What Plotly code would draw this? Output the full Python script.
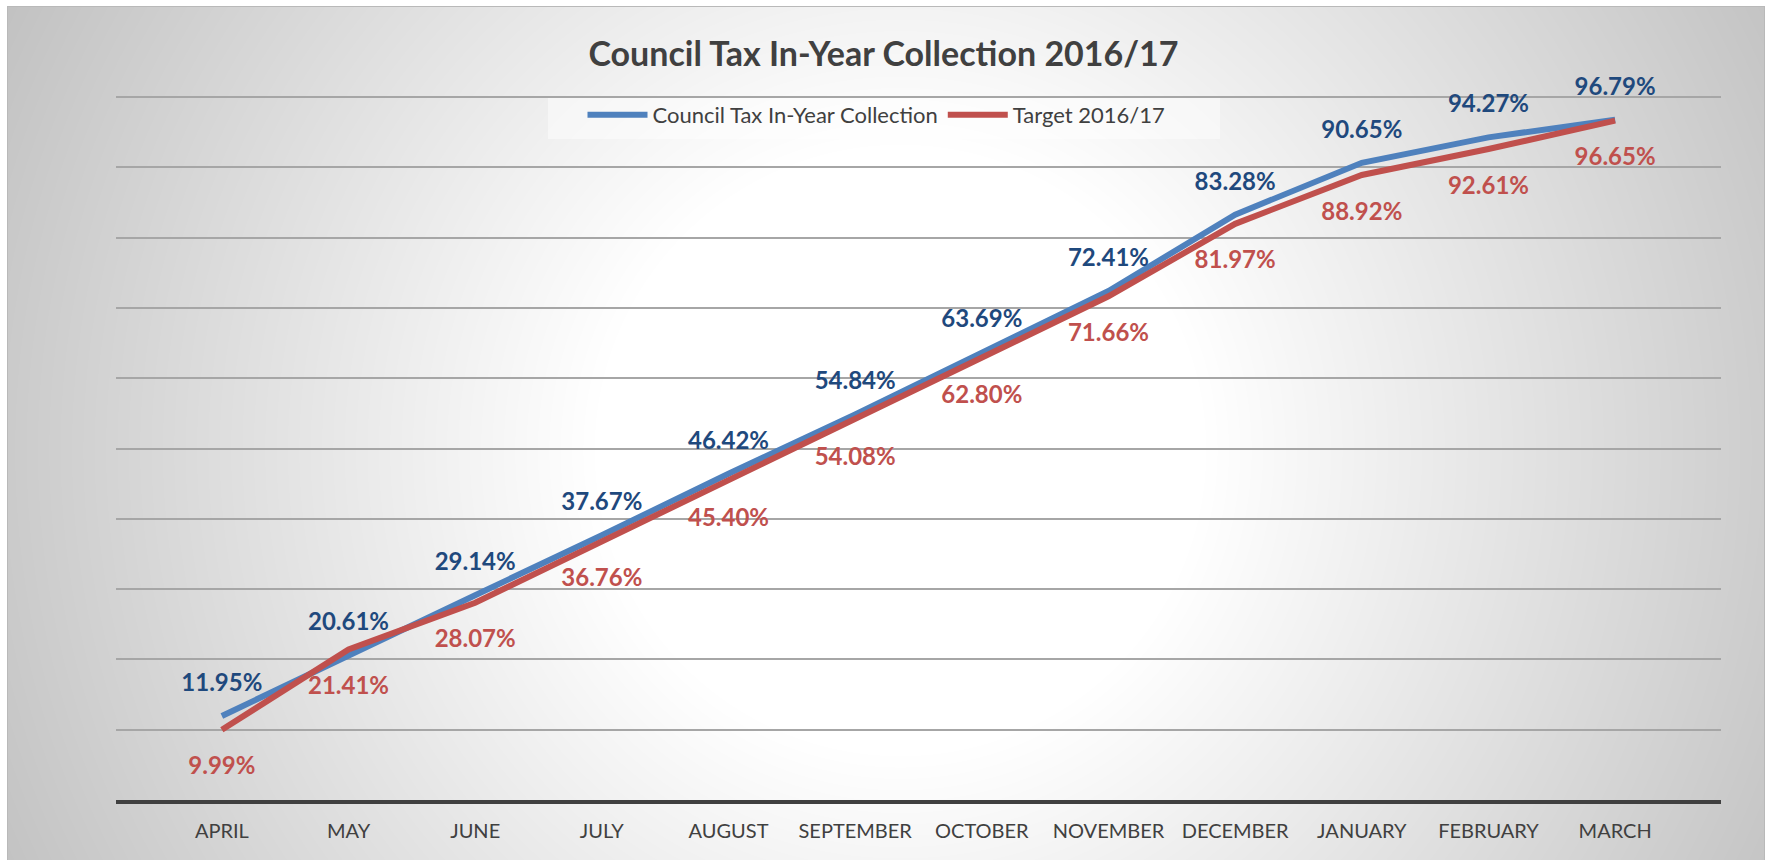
import base64
import struct
import zlib

import numpy as np
import plotly.graph_objects as go

# ---------------- data ----------------
months = ["APRIL", "MAY", "JUNE", "JULY", "AUGUST", "SEPTEMBER",
          "OCTOBER", "NOVEMBER", "DECEMBER", "JANUARY", "FEBRUARY", "MARCH"]
collection = [11.95, 20.61, 29.14, 37.67, 46.42, 54.84,
              63.69, 72.41, 83.28, 90.65, 94.27, 96.79]
target = [9.99, 21.41, 28.07, 36.76, 45.40, 54.08,
          62.80, 71.66, 81.97, 88.92, 92.61, 96.65]

# ---------------- geometry (px) ----------------
FIG_W, FIG_H = 1767, 860
M_L, M_R, M_T, M_B = 116, 46, 95, 60
PLOT_W = FIG_W - M_L - M_R
PLOT_H = FIG_H - M_T - M_B
PANEL_X0, PANEL_Y0, PANEL_X1, PANEL_Y1 = 7, 6, 1765, 860


def px_to_paper_x(px):
    return (px - M_L) / PLOT_W


def px_to_paper_y(py):
    return (FIG_H - M_B - py) / PLOT_H


# ---------------- radial gradient background (PNG) ----------------
def gradient_png():
    w = PANEL_X1 - PANEL_X0
    h = PANEL_Y1 - PANEL_Y0
    yy, xx = np.mgrid[0:h, 0:w]
    cx, cy = 900 - PANEL_X0, 450 - PANEL_Y0
    d = np.hypot(xx - cx, yy - cy)
    c = np.clip(255.0 - (d - 300.0) * 0.088, 192, 255)
    a = np.round(c).astype(np.uint8)
    a[0, :] = 185
    a[:, 0] = 185
    a[:, -1] = 185
    sub = np.empty((h, w), np.uint8)
    sub[:, 0] = a[:, 0]
    sub[:, 1:] = ((a[:, 1:].astype(np.int16) - a[:, :-1].astype(np.int16)) % 256).astype(np.uint8)
    raw = np.hstack([np.ones((h, 1), np.uint8), sub]).tobytes()

    def chunk(t, data):
        return (struct.pack(">I", len(data)) + t + data
                + struct.pack(">I", zlib.crc32(t + data) & 0xFFFFFFFF))

    ihdr = struct.pack(">IIBBBBB", w, h, 8, 0, 0, 0, 0)
    png = (b"\x89PNG\r\n\x1a\n" + chunk(b"IHDR", ihdr)
           + chunk(b"IDAT", zlib.compress(raw, 9)) + chunk(b"IEND", b""))
    return "data:image/png;base64," + base64.b64encode(png).decode()


BLUE = "#4F81BD"
RED = "#C0504D"
BLUE_TXT = "#1F497D"
RED_TXT = "#C0504D"
GREY_TXT = "#404040"
FONT = "Lato"

fig = go.Figure()

fig.add_trace(go.Scatter(
    x=months, y=collection, name="Council Tax In-Year Collection",
    mode="lines+markers+text",
    line=dict(color=BLUE, width=6),
    marker=dict(size=29, color="rgba(0,0,0,0)"),
    texttemplate="%{y:.2f}%", textposition="top center",
    textfont=dict(family=FONT, size=24, color=BLUE_TXT, weight="bold"),
    cliponaxis=False,
    hoverinfo="skip",
))
fig.add_trace(go.Scatter(
    x=months, y=target, name="Target 2016/17",
    mode="lines+markers+text",
    line=dict(color=RED, width=6),
    marker=dict(size=41, color="rgba(0,0,0,0)"),
    texttemplate="%{y:.2f}%", textposition="bottom center",
    textfont=dict(family=FONT, size=24, color=RED_TXT, weight="bold"),
    cliponaxis=False,
    hoverinfo="skip",
))

fig.update_layout(
    width=FIG_W, height=FIG_H,
    margin=dict(l=M_L, r=M_R, t=M_T, b=M_B, autoexpand=False),
    paper_bgcolor="white",
    plot_bgcolor="rgba(0,0,0,0)",
    title=dict(
        text="Council Tax In-Year Collection 2016/17",
        x=0.5, xref="container", xanchor="center",
        y=1 - 54 / FIG_H, yref="container", yanchor="middle",
        font=dict(family=FONT, size=34, color=GREY_TXT, weight="bold"),
    ),
    legend=dict(
        orientation="h",
        x=0.5 - 7 / FIG_W, xref="container", xanchor="center",
        y=1 - 115 / FIG_H, yref="container", yanchor="middle",
        bgcolor="rgba(0,0,0,0)",
        font=dict(family=FONT, size=22, color=GREY_TXT),
        itemwidth=60,
    ),
    xaxis=dict(
        showgrid=False, showline=True, linecolor=GREY_TXT, linewidth=3.5,
        ticks="", tickfont=dict(family=FONT, size=20, color=GREY_TXT),
        ticklabelstandoff=10,
        fixedrange=True,
    ),
    yaxis=dict(
        range=[0, 100.3], dtick=10, showgrid=True, gridcolor="#a6a6a6",
        gridwidth=1.5, zeroline=False, showticklabels=False, fixedrange=True,
    ),
    showlegend=True,
    images=[dict(
        source=gradient_png(), xref="paper", yref="paper",
        x=px_to_paper_x(PANEL_X0), y=px_to_paper_y(PANEL_Y0),
        sizex=(PANEL_X1 - PANEL_X0) / PLOT_W, sizey=(PANEL_Y1 - PANEL_Y0) / PLOT_H,
        xanchor="left", yanchor="top", sizing="stretch", layer="below",
    )],
    shapes=[dict(
        type="rect", xref="paper", yref="paper", layer="below",
        x0=px_to_paper_x(548), x1=px_to_paper_x(1220),
        y0=px_to_paper_y(139), y1=px_to_paper_y(97),
        fillcolor="rgba(255,255,255,0.45)", line=dict(width=0),
    )],
)

fig.write_html("out.html", config={"displayModeBar": False})
